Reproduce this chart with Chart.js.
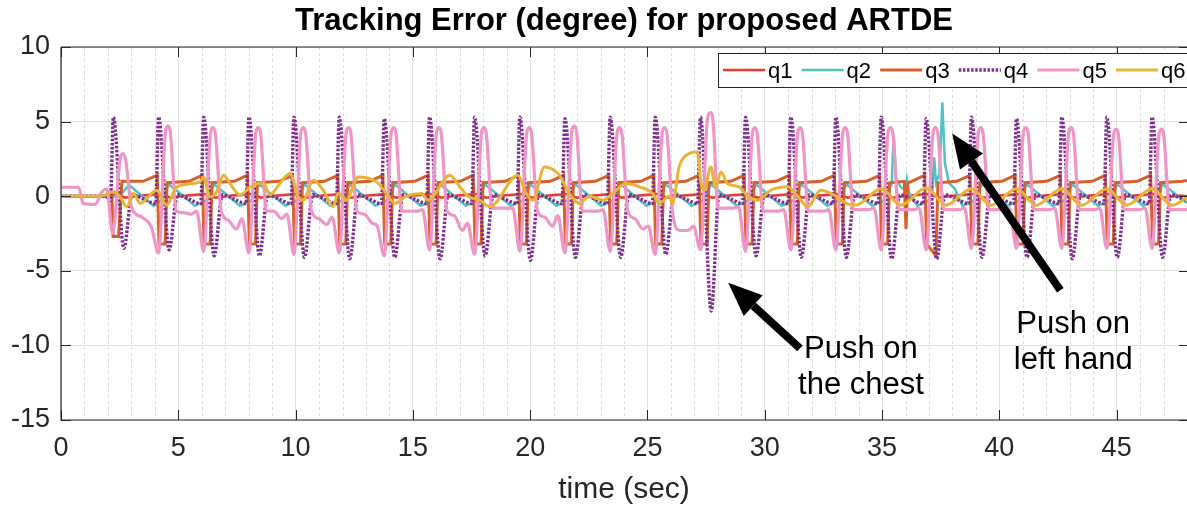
<!DOCTYPE html>
<html>
<head>
<meta charset="utf-8">
<script src="https://cdn.jsdelivr.net/npm/chart.js@4.4.0/dist/chart.umd.min.js"></script>
<style>
html, body { margin: 0; padding: 0; background: #fff; overflow: hidden; }
#wrap { width: 1187px; height: 508px; position: relative; }
</style>
</head>
<body>
<div id="wrap"><canvas id="chart"></canvas></div>
<script>
// series values, [time (sec), error (degree)]
var q1Data = [[0,0],[2.2,0],[2.33,0.15],[2.73,-0.1],[3.43,0.05],
  [4.26,0.15],[4.66,-0.1],[5.36,0.05],[6.18,0.15],[6.58,-0.1],[7.28,0.05],
  [8.11,0.15],[8.51,-0.1],[9.21,0.05],[10.03,0.15],[10.43,-0.1],[11.13,0.05],
  [11.96,0.15],[12.36,-0.1],[13.06,0.05],[13.88,0.15],[14.28,-0.1],[14.98,0.05],
  [15.81,0.15],[16.21,-0.1],[16.91,0.05],[17.73,0.15],[18.13,-0.1],[18.83,0.05],
  [19.66,0.15],[20.06,-0.1],[20.76,0.05],[21.58,0.15],[21.98,-0.1],[22.68,0.05],
  [23.51,0.15],[23.91,-0.1],[24.61,0.05],[25.43,0.15],[25.83,-0.1],[26.53,0.05],
  [27.36,0.15],[27.76,-0.1],[28.46,0.05],[29.28,0.15],[29.68,-0.1],[30.38,0.05],
  [31.21,0.15],[31.61,-0.1],[32.31,0.05],[33.13,0.15],[33.53,-0.1],[34.23,0.05],
  [35.06,0.15],[35.46,-0.1],[36.16,0.05],[36.98,0.15],[37.38,-0.1],[38.08,0.05],
  [38.91,0.15],[39.31,-0.1],[40.01,0.05],[40.83,0.15],[41.23,-0.1],[41.93,0.05],
  [42.76,0.15],[43.16,-0.1],[43.86,0.05],[44.68,0.15],[45.08,-0.1],[45.78,0.05],
  [46.61,0.15],[47.01,-0.1],[47.71,0.05],[48,0]];

var q2Data = [[0,0],[2.3,0],[2.6,0.2],[2.9,0.75],[3.95,-0.65],
  [4.26,-0.3],[4.61,0.8],[5.71,-0.65],[6.18,-0.3],[6.53,0.8],[7.63,-0.65],
  [8.11,-0.3],[8.46,0.8],[9.56,-0.65],[10.03,-0.3],[10.38,0.8],[11.48,-0.65],
  [11.96,-0.3],[12.31,0.8],[13.41,-0.65],[13.88,-0.3],[14.23,0.8],[15.33,-0.65],
  [15.81,-0.3],[16.16,0.8],[17.26,-0.65],[17.73,-0.3],[18.08,0.8],[19.18,-0.65],
  [19.66,-0.3],[20.01,0.8],[21.11,-0.65],[21.58,-0.3],[21.93,0.8],[23.03,-0.65],
  [23.51,-0.3],[23.86,0.8],[24.96,-0.65],[25.43,-0.3],[25.78,0.8],[26.88,-0.65],
  [27.36,-0.3],[27.71,0.8],[28.81,-0.65],[29.28,-0.3],[29.63,0.8],[30.73,-0.65],
  [31.21,-0.3],[31.56,0.8],[32.66,-0.65],[33.13,-0.3],[33.48,0.8],[34.58,-0.65],
  [35.06,-0.3],[35.41,0.8],[35.5,4.1],[35.6,1.2],[35.8,0.6],[36.0,0.4],[36.06,1.1],[36.15,0.2],[36.51,-0.65],
  [36.98,-0.3],[37.15,0.5],[37.22,2.6],[37.3,0.9],[37.45,1.5],[37.57,6.3],[37.68,2.2],[37.85,0.9],[38.1,0.5],[38.43,-0.65],
  [38.91,-0.3],[39.26,0.8],[40.36,-0.65],[40.83,-0.3],[41.18,0.8],[42.28,-0.65],
  [42.76,-0.3],[43.11,0.8],[44.21,-0.65],[44.68,-0.3],[45.03,0.8],[46.13,-0.65],
  [46.61,-0.3],[46.96,0.8],[48,-0.45]];

var q3Data = [[0,0],[2.1,0],[2.17,0.1],[2.22,-2.7],[2.45,-2.7],[2.6,1.0],[3.5,1.0],[4.1,1.4],
  [4.18,-3.2],[4.44,-3.2],[4.52,0.9],[5.46,1.0],[6.02,1.4],
  [6.1,-3.2],[6.36,-3.2],[6.44,0.9],[7.38,1.0],[7.95,1.4],
  [8.03,-3.2],[8.29,-3.2],[8.37,0.9],[9.31,1.0],[9.87,1.4],
  [9.95,-3.2],[10.21,-3.2],[10.29,0.9],[11.23,1.0],[11.8,1.4],
  [11.88,-3.2],[12.14,-3.2],[12.22,0.9],[13.16,1.0],[13.72,1.4],
  [13.8,-3.2],[14.06,-3.2],[14.14,0.9],[15.08,1.0],[15.65,1.4],
  [15.73,-3.2],[15.99,-3.2],[16.07,0.9],[17.01,1.0],[17.57,1.4],
  [17.65,-3.2],[17.91,-3.2],[17.99,0.9],[18.93,1.0],[19.5,1.4],
  [19.58,-3.2],[19.84,-3.2],[19.92,0.9],[20.86,1.0],[21.42,1.4],
  [21.5,-3.2],[21.76,-3.2],[21.84,0.9],[22.78,1.0],[23.35,1.4],
  [23.43,-3.2],[23.69,-3.2],[23.77,0.9],[24.71,1.0],[25.27,1.4],
  [25.35,-3.2],[25.61,-3.2],[25.69,0.9],[26.63,1.0],[27.2,1.4],
  [27.28,-3.2],[27.54,-3.2],[27.62,0.9],[28.56,1.0],[29.12,1.4],
  [29.2,-3.2],[29.46,-3.2],[29.54,0.9],[30.48,1.0],[31.05,1.4],
  [31.13,-3.2],[31.39,-3.2],[31.47,0.9],[32.41,1.0],[32.97,1.4],
  [33.05,-3.2],[33.31,-3.2],[33.39,0.9],[34.33,1.0],[34.9,1.4],
  [34.98,-3.2],[35.24,-3.2],[35.32,0.9],[35.95,1.0],[36.02,-2.2],[36.1,0.9],[36.26,1.0],[36.82,1.4],
  [36.9,-3.2],[37.1,-3.6],[37.3,-4.0],[37.38,0.9],[38.18,1.0],[38.75,1.4],
  [38.83,-3.2],[39.09,-3.2],[39.17,0.9],[40.11,1.0],[40.67,1.4],
  [40.75,-3.2],[41.01,-3.2],[41.09,0.9],[42.03,1.0],[42.6,1.4],
  [42.68,-3.2],[42.94,-3.2],[43.02,0.9],[43.96,1.0],[44.52,1.4],
  [44.6,-3.2],[44.86,-3.2],[44.94,0.9],[45.88,1.0],[46.45,1.4],
  [46.53,-3.2],[46.79,-3.2],[46.87,0.9],[47.81,1.0],[48,1.05]];

var q4Data = [[0,0],[1.9,0],[2.11,-0.3],
  [2.23,5.3],[2.68,-3.5],[3.03,0.1],[3.53,-0.2],[4.04,-0.5],
  [4.16,5.3],[4.61,-3.6],[4.96,0.1],[5.46,-0.2],[5.96,-0.5],
  [6.08,5.3],[6.53,-4.0],[6.88,0.1],[7.38,-0.2],[7.89,-0.5],
  [8.01,5.3],[8.46,-4.0],[8.81,0.1],[9.31,-0.2],[9.81,-0.5],
  [9.93,5.3],[10.38,-4.1],[10.73,0.1],[11.23,-0.2],[11.74,-0.5],
  [11.86,5.3],[12.31,-4.2],[12.66,0.1],[13.16,-0.2],[13.66,-0.5],
  [13.78,5.2],[14.23,-4.1],[14.58,0.1],[15.08,-0.2],[15.59,-0.5],
  [15.71,5.3],[16.16,-4.2],[16.51,0.1],[17.01,-0.2],[17.51,-0.5],
  [17.63,5.3],[18.08,-4.0],[18.43,0.1],[18.93,-0.2],[19.44,-0.5],
  [19.56,5.3],[20.01,-4.3],[20.36,0.1],[20.86,-0.2],[21.36,-0.5],
  [21.48,5.2],[21.93,-4.1],[22.28,0.1],[22.78,-0.2],[23.29,-0.5],
  [23.41,5.3],[23.86,-4.1],[24.21,0.1],[24.71,-0.2],[25.21,-0.5],
  [25.33,5.3],[25.78,-3.9],[26.13,0.1],[26.63,-0.2],[27.14,-0.5],
  [27.26,5.3],[27.72,-7.7],[28.05,0.1],[28.56,-0.2],[29.06,-0.5],
  [29.18,5.3],[29.63,-4.0],[29.98,0.1],[30.48,-0.2],[30.99,-0.5],
  [31.11,5.3],[31.56,-4.1],[31.91,0.1],[32.41,-0.2],[32.91,-0.5],
  [33.03,5.3],[33.48,-4.1],[33.83,0.1],[34.33,-0.2],[34.84,-0.5],
  [34.96,5.3],[35.41,-4.2],[35.76,0.1],[36.26,-0.2],[36.76,-0.5],
  [36.88,5.2],[37.33,-4.2],[37.68,0.1],[38.18,-0.2],[38.69,-0.5],
  [38.81,5.3],[39.26,-4.1],[39.61,0.1],[40.11,-0.2],[40.61,-0.5],
  [40.73,5.2],[41.18,-4.1],[41.53,0.1],[42.03,-0.2],[42.54,-0.5],
  [42.66,5.3],[43.11,-4.2],[43.46,0.1],[43.96,-0.2],[44.46,-0.5],
  [44.58,5.3],[45.03,-4.1],[45.38,0.1],[45.88,-0.2],[46.39,-0.5],
  [46.51,5.3],[46.96,-4.1],[47.31,0.1],[47.81,-0.2],[48,-0.3]];

var q5Data = [[0,0.6],[0.75,0.6],[0.95,-0.5],[1.45,-0.55],[1.75,0.3],[1.95,0.5],
  [2.2,-2.5],[2.52,2.5],[2.64,2.85],[2.76,2.4],[3.0,-0.7],[3.45,-1.4],[3.86,-2.1],
  [4.16,-3.8],[4.46,4.4],[4.56,4.7],[4.66,4.3],[4.91,-1.0],[5.21,-1.1],[5.56,-1.2],
  [5.78,-1.0],[6.08,-3.7],[6.38,4.3],[6.48,4.6],[6.58,4.2],[6.83,-1.0],[7.13,-1.6],[7.48,-2.2],
  [7.71,-1.5],[8.01,-3.8],[8.31,4.3],[8.41,4.6],[8.51,4.2],[8.76,-1.0],[9.06,-1.0],[9.41,-1.5],
  [9.63,-1.2],[9.93,-3.9],[10.23,4.3],[10.33,4.6],[10.43,4.2],[10.68,-1.0],[10.98,-1.5],[11.33,-1.9],
  [11.56,-1.4],[11.86,-3.8],[12.16,4.3],[12.26,4.6],[12.36,4.2],[12.61,-1.0],[12.91,-1.2],[13.26,-1.8],
  [13.48,-2.0],[13.78,-4.0],[14.08,4.3],[14.18,4.6],[14.28,4.2],[14.53,-1.0],[14.83,-1.0],[15.18,-1.0],
  [15.41,-0.9],[15.71,-3.6],[16.01,4.3],[16.11,4.6],[16.21,4.2],[16.46,-1.0],[16.76,-1.3],[17.11,-2.3],
  [17.33,-1.8],[17.63,-3.9],[17.93,4.3],[18.03,4.6],[18.13,4.2],[18.38,-0.8],[18.68,-0.8],[19.03,-0.8],
  [19.26,-0.8],[19.56,-3.7],[19.86,4.3],[19.96,4.6],[20.06,4.2],[20.31,-1.0],[20.61,-1.4],[20.96,-2.0],
  [21.18,-1.3],[21.48,-3.8],[21.78,4.4],[21.88,4.7],[21.98,4.3],[22.23,-1.0],[22.53,-1.0],[22.88,-1.0],
  [23.11,-0.9],[23.41,-3.7],[23.71,4.3],[23.81,4.6],[23.91,4.2],[24.16,-1.0],[24.46,-1.5],[24.81,-2.2],
  [25.03,-2.0],[25.33,-3.9],[25.63,4.3],[25.73,4.6],[25.83,4.2],[26.08,-1.2],[26.38,-2.3],[26.73,-2.3],
  [26.96,-2.0],[27.26,-3.6],[27.56,5.2],[27.68,5.6],[27.8,5.0],[28.01,-0.8],[28.31,-0.8],[28.66,-0.8],
  [28.88,-0.7],[29.18,-3.7],[29.48,4.3],[29.58,4.6],[29.68,4.2],[29.93,-1.0],[30.23,-1.0],[30.58,-1.0],
  [30.81,-0.9],[31.11,-3.6],[31.41,4.3],[31.51,4.6],[31.61,4.2],[31.86,-1.0],[32.16,-1.0],[32.51,-1.0],
  [32.73,-0.9],[33.03,-3.6],[33.33,4.3],[33.43,4.6],[33.53,4.2],[33.78,-0.9],[34.08,-0.9],[34.43,-0.9],
  [34.66,-0.8],[34.96,-3.6],[35.26,4.3],[35.36,4.6],[35.46,4.2],[35.71,-0.9],[36.01,-0.9],[36.36,-0.9],
  [36.58,-0.8],[36.88,-3.6],[37.18,4.3],[37.28,4.6],[37.38,4.2],[37.63,-0.9],[37.93,-0.9],[38.28,-0.9],
  [38.51,-0.8],[38.81,-3.5],[39.11,4.3],[39.21,4.6],[39.31,4.2],[39.56,-0.9],[39.86,-0.9],[40.21,-0.9],
  [40.43,-0.8],[40.73,-3.5],[41.03,4.3],[41.13,4.6],[41.23,4.2],[41.48,-0.9],[41.78,-0.9],[42.13,-0.9],
  [42.36,-0.8],[42.66,-3.5],[42.96,4.3],[43.06,4.6],[43.16,4.2],[43.41,-0.9],[43.71,-0.9],[44.06,-0.9],
  [44.28,-0.8],[44.58,-3.5],[44.88,4.2],[44.98,4.5],[45.08,4.1],[45.33,-0.9],[45.63,-0.9],[45.98,-0.9],
  [46.21,-0.8],[46.51,-3.5],[46.81,4.2],[46.91,4.5],[47.01,4.1],[47.26,-0.9],[47.56,-0.9],[48,-0.9]];

var q6Data = [[0,0],[1.7,0],[2.24,0.29],[2.5,0],[2.81,-0.71],[3.09,0.18],[3.37,-0.49],[4.08,0.4],
  [4.51,-0.6],[4.93,0.62],[5.93,0.96],[6.07,1.29],[6.35,-0.04],[6.64,0.3],[6.92,1.41],[7.35,0.51],
  [7.63,0.07],[8.05,0.6],[8.62,0.9],[8.9,0.1],[9.33,0.85],[9.76,1.52],[10.11,-0.04],[10.33,-0.27],
  [10.75,1.07],[11.18,0.4],[11.6,-0.71],[11.81,0.18],[12.17,-0.27],[12.67,1.29],[13.45,0.96],
  [13.88,0.18],[14.23,-0.49],[14.72,0],[15.36,0.18],[15.65,-0.27],[16.57,1.41],[17.0,0.63],
  [17.35,0],[17.85,-0.27],[18.28,-0.71],[19.48,1.41],[19.83,0.18],[20.12,-0.27],[20.61,1.96],
  [21.25,1.41],[21.67,0.18],[22.1,-0.49],[22.52,0],[23.09,-0.27],[23.52,0.18],[24.08,0.85],
  [24.65,0.63],[25.22,0.18],[25.5,-0.49],[25.93,0],[26.07,-0.47],[26.35,1.96],[26.64,2.74],
  [27.13,2.97],[27.27,1.0],[27.42,0.4],[27.7,1.96],[27.91,0.6],[28.13,1.63],[28.41,0.85],
  [28.91,0.62],[29.27,0],[29.7,-0.27],[30.26,0.4],[30.97,0.63],[31.54,-0.27],[31.82,-0.71],
  [32.39,0.4],[32.96,0.07],[33.5,-0.49],[33.88,-0.6],[34.96,0.5],[35.81,-0.6],[36.88,0.55],
  [37.73,-0.6],[38.81,0.5],[39.66,-0.6],[40.73,0.5],[41.58,-0.6],[42.66,0.5],[43.51,-0.6],
  [44.58,0.5],[45.43,-0.6],[46.51,0.5],[47.36,-0.6],[48,-0.1]];

var seriesNames = ["q1", "q2", "q3", "q4", "q5", "q6"];
var seriesData = [q1Data, q2Data, q3Data, q4Data, q5Data, q6Data];
var seriesColors = ["#ec3a2c", "#4fc3c2", "#d6612a", "#7e2f8e", "#f096c6", "#e9b338"];
var xTicks = [0, 5, 10, 15, 20, 25, 30, 35, 40, 45];
var yTicks = [-15, -10, -5, 0, 5, 10];

// annotations: arrow tip / tail and text anchor, in axis units
var notes = [
    {tip: [28.44, -5.8], tail: [31.5, -10.2], at: [34.1, -10.3], lines: ["Push on", "the chest"]},
    {tip: [37.99, 4.2], tail: [42.6, -6.3], at: [43.15, -8.6], lines: ["Push on", "left hand"]}
];

var FONT = "'Liberation Sans', Arial, Helvetica, sans-serif";
var INK = "#262626";

function toPoints(arr) {
    return arr.map(function (p) { return {x: p[0], y: p[1]}; });
}

var framePlugin = {
    id: "frame",
    beforeDatasetsDraw: function (chart) {
        var c = chart.ctx, a = chart.chartArea, sx = chart.scales.x;
        c.save();
        c.strokeStyle = "#d9d9d9";
        c.lineWidth = 1;
        c.setLineDash([3, 3]);
        for (var t = 1; t < 48; t++) {
            if (t % 5 === 0) continue;
            var px = Math.round(sx.getPixelForValue(t)) + 0.5;
            c.beginPath(); c.moveTo(px, a.top); c.lineTo(px, a.bottom); c.stroke();
        }
        c.restore();
    },
    afterDatasetsDraw: function (chart) {
        var c = chart.ctx, a = chart.chartArea, sx = chart.scales.x, sy = chart.scales.y;
        c.save();
        // axes box
        c.strokeStyle = INK;
        c.lineWidth = 1.2;
        c.beginPath();
        c.moveTo(a.left, a.top); c.lineTo(a.right + 2, a.top);
        c.moveTo(a.left, a.top); c.lineTo(a.left, a.bottom); c.lineTo(a.right + 2, a.bottom);
        c.stroke();
        // inward tick marks
        c.lineWidth = 1;
        xTicks.forEach(function (v) {
            var px = Math.round(sx.getPixelForValue(v)) + 0.5;
            c.beginPath();
            c.moveTo(px, a.bottom); c.lineTo(px, a.bottom - 10);
            c.moveTo(px, a.top); c.lineTo(px, a.top + 10);
            c.stroke();
        });
        yTicks.forEach(function (v) {
            var py = Math.round(sy.getPixelForValue(v)) + 0.5;
            c.beginPath();
            c.moveTo(a.left, py); c.lineTo(a.left + 10, py);
            c.moveTo(a.right + 2, py); c.lineTo(a.right - 8, py);
            c.stroke();
        });

        // legend
        var lx = a.right - 469, ly = 53;
        c.fillStyle = "#fff";
        c.fillRect(lx, ly, 500, 34);
        c.strokeStyle = INK;
        c.lineWidth = 1;
        c.strokeRect(lx + 0.5, ly + 0.5, 500, 34);
        c.font = "22px " + FONT;
        c.textBaseline = "middle";
        c.textAlign = "left";
        chart.data.datasets.forEach(function (ds, i) {
            var x0 = lx + 5 + i * 78.6;
            c.strokeStyle = ds.borderColor;
            c.lineWidth = ds.borderWidth;
            c.setLineDash(ds.borderDash || []);
            c.beginPath(); c.moveTo(x0, ly + 17); c.lineTo(x0 + 42, ly + 17); c.stroke();
            c.setLineDash([]);
            c.fillStyle = "#000";
            c.fillText(ds.label, x0 + 45, ly + 19);
        });

        // arrows and notes
        notes.forEach(function (n) {
            var tx = sx.getPixelForValue(n.tip[0]), ty = sy.getPixelForValue(n.tip[1]);
            var bx = sx.getPixelForValue(n.tail[0]), by = sy.getPixelForValue(n.tail[1]);
            var ang = Math.atan2(ty - by, tx - bx);
            var hl = 34, hw = 14;
            var hx = tx - hl * Math.cos(ang), hy = ty - hl * Math.sin(ang);
            c.strokeStyle = "#000";
            c.lineWidth = 8;
            c.lineCap = "butt";
            c.beginPath(); c.moveTo(bx, by); c.lineTo(hx, hy); c.stroke();
            c.fillStyle = "#000";
            c.beginPath();
            c.moveTo(tx, ty);
            c.lineTo(hx + hw * Math.sin(ang), hy - hw * Math.cos(ang));
            c.lineTo(hx - hw * Math.sin(ang), hy + hw * Math.cos(ang));
            c.closePath(); c.fill();
            var cx = sx.getPixelForValue(n.at[0]), cy = sy.getPixelForValue(n.at[1]);
            c.font = "31px " + FONT;
            c.textAlign = "center";
            c.textBaseline = "middle";
            n.lines.forEach(function (s, j) { c.fillText(s, cx, cy + j * 36); });
        });

        // title
        c.fillStyle = "#000";
        c.font = "bold 31px " + FONT;
        c.textAlign = "center";
        c.textBaseline = "middle";
        c.fillText("Tracking Error (degree) for proposed ARTDE", (a.left + a.right) / 2, 21);
        c.restore();
    }
};

var smooth = [false, false, false, true, true, true];
var widths = [2.5, 2.5, 3, 3.4, 3.2, 3];

var chart = new Chart(document.getElementById("chart"), {
    type: "line",
    data: {
        datasets: seriesNames.map(function (name, i) {
            return {
                label: name,
                data: toPoints(seriesData[i]),
                borderColor: seriesColors[i],
                borderWidth: widths[i],
                borderDash: i === 3 ? [2.5, 1.6] : [],
                pointRadius: 0,
                fill: false,
                tension: 0,
                cubicInterpolationMode: smooth[i] ? "monotone" : "default",
                order: 6 - i
            };
        })
    },
    options: {
        animation: false,
        responsive: true,
        maintainAspectRatio: false,
        devicePixelRatio: 1,
        layout: {padding: {top: 47, right: 0, bottom: 0, left: 0}},
        plugins: {legend: {display: false}, tooltip: {enabled: false}, title: {display: false}},
        scales: {
            x: {
                type: "linear",
                min: 0, max: 48,
                afterFit: function (s) { s.height = 88; },
                ticks: {stepSize: 5, includeBounds: false, autoSkip: false, maxRotation: 0,
                        padding: 12, color: INK, font: {family: FONT, size: 27}},
                grid: {color: "#e2e2e2", lineWidth: 1, drawTicks: false},
                border: {display: false},
                title: {display: true, text: "time (sec)", color: INK,
                        font: {family: FONT, size: 30}, padding: {top: 0, bottom: 0}}
            },
            y: {
                min: -15, max: 10,
                afterFit: function (s) { s.width = 61; },
                ticks: {stepSize: 5, padding: 11, color: INK, font: {family: FONT, size: 27}},
                grid: {color: "#e2e2e2", lineWidth: 1, drawTicks: false},
                border: {display: false}
            }
        }
    },
    plugins: [framePlugin]
});
</script>
</body>
</html>
